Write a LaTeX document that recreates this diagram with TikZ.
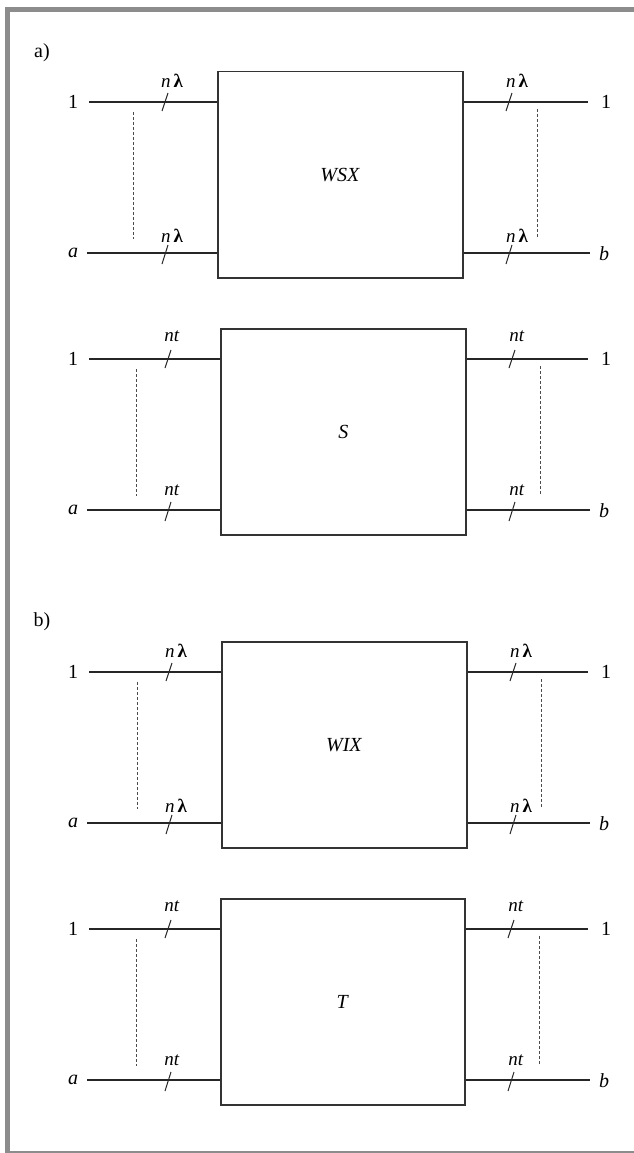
\documentclass[tikz,border=0pt]{standalone}
\usepackage{fontspec}
\setmainfont{Liberation Serif}
\begin{document}
\newcommand\wblock[9]{%
  % #1 name, #2 top y, #3 box left, #4 box right, #5 box text, #6 bus text,
  % #7 top label offset, #8 bottom label offset, #9 label dx
  \node[boxst, anchor=north west, minimum width={(#4-#3)*1pt}, minimum height=206pt] (#1) at (#3,#2) {\textit{#5}};
  \coordinate (#1-l1) at (89,{#2+31});
  \coordinate (#1-la) at (87,{#2+182});
  \coordinate (#1-r1) at (588,{#2+31});
  \coordinate (#1-rb) at (590,{#2+182});
  \draw[wire] (#1-l1) -- (#1-l1 -| #1.west);
  \draw[wire] (#1-la) -- (#1-la -| #1.west);
  \draw[wire] (#1-r1 -| #1.east) -- (#1-r1);
  \draw[wire] (#1-rb -| #1.east) -- (#1-rb);
  \node[lbl] (#1-t1) at (73,{#2+31}) {1};
  \node[lbl] (#1-ta) at (73,{#2+182}) {\textit{a}};
  \node[lbl] (#1-u1) at (606,{#2+31}) {1};
  \node[lbl] (#1-ub) at (604,{#2+183}) {\textit{b}};
  % slashes
  \draw[tick] ({#3-49},{#2+22}) -- ({#3-55},{#2+40});
  \draw[tick] ({#3-49},{#2+174}) -- ({#3-55},{#2+193});
  \draw[tick] ({#4+50},{#2+22}) -- ({#4+44},{#2+40});
  \draw[tick] ({#4+50},{#2+174}) -- ({#4+44},{#2+193});
  % bus labels
  \node[bus] (#1-b1) at ({#3-52+#9},{#2+31-#7}) {#6};
  \node[bus] (#1-b2) at ({#3-52+#9},{#2+182-#8}) {#6};
  \node[bus] (#1-b3) at ({#4+47+#9+1},{#2+31-#7}) {#6};
  \node[bus] (#1-b4) at ({#4+47+#9+1},{#2+182-#8}) {#6};
  % dashed
  \draw[dots] ({#3-84},{#2+41}) -- ({#3-84},{#2+168});
  \draw[dots] ({#4+75},{#2+38}) -- ({#4+75},{#2+167});
}
\begin{tikzpicture}[x=1pt,y=-1pt,
  wire/.style={line width=1.2pt, draw=black!85},
  boxst/.style={draw=black!80, line width=1.5pt, inner sep=0pt, font=\fontsize{20}{24}\selectfont},
  dots/.style={draw=black!70, line width=1pt, dash pattern=on 3pt off 2pt},
  tick/.style={line width=1pt, draw=black!85},
  lbl/.style={font=\fontsize{20}{24}\selectfont, inner sep=0pt},
  bus/.style={font=\fontsize{19}{22}\selectfont, inner sep=0pt},
  framefill/.style={fill=black!45, draw=none}]
\useasboundingbox (0,0) rectangle (634,1153);
\fill[framefill] (5,7) rectangle (634,12);
\fill[framefill] (5,7) rectangle (9.5,1152.5);
\fill[framefill] (5,1151) rectangle (634,1152.5);
\node[lbl] (pa) at (42,53) {a)};
\node[lbl] (pb) at (42,622) {b)};
\wblock{wsx}{71}{217}{462}{WSX}{\textit{n}\hspace{3pt}\textbf{λ}}{21}{17}{7}
\wblock{s}{328}{220}{465}{S}{\textit{nt}}{23}{20}{4}
\wblock{wix}{641}{221}{466}{WIX}{\textit{n}\hspace{3pt}\textbf{λ}}{21}{17}{7}
\wblock{t}{898}{220}{464}{T}{\textit{nt}}{23}{20}{4}
\end{tikzpicture}
\end{document}
